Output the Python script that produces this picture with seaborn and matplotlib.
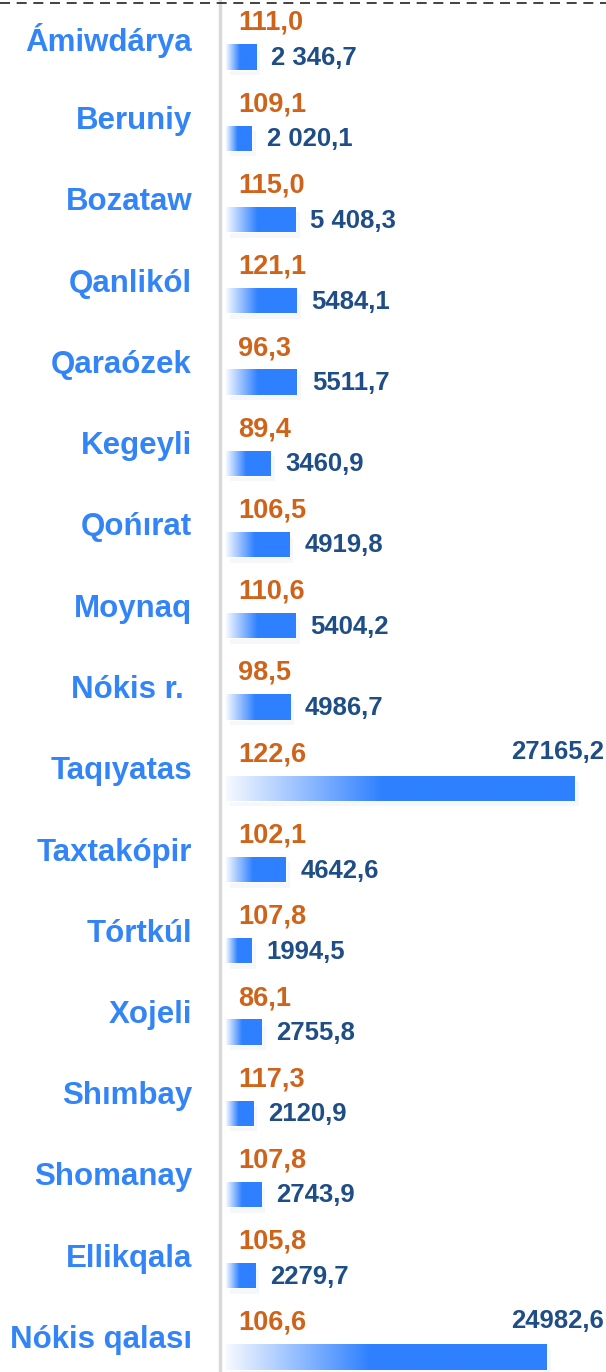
import numpy as np
import pandas as pd
import matplotlib
matplotlib.use('Agg')
import matplotlib.pyplot as plt
import seaborn as sns
from matplotlib.colors import LinearSegmentedColormap
from matplotlib.lines import Line2D
import matplotlib.patheffects as pe

districts = ['Ámiwdárya', 'Beruniy', 'Bozataw', 'Qanlikól', 'Qaraózek', 'Kegeyli',
             'Qońırat', 'Moynaq', 'Nókis r. ', 'Taqıyatas', 'Taxtakópir', 'Tórtkúl',
             'Xojeli', 'Shımbay', 'Shomanay', 'Ellikqala', 'Nókis qalası']
volume = [2346.7, 2020.1, 5408.3, 5484.1, 5511.7, 3460.9,
          4919.8, 5404.2, 4986.7, 27165.2, 4642.6, 1994.5,
          2755.8, 2120.9, 2743.9, 2279.7, 24982.6]
volume_labels = ['2 346,7', '2 020,1', '5 408,3', '5484,1', '5511,7', '3460,9',
                 '4919,8', '5404,2', '4986,7', '27165,2', '4642,6', '1994,5',
                 '2755,8', '2120,9', '2743,9', '2279,7', '24982,6']
growth_labels = ['111,0', '109,1', '115,0', '121,1', '96,3', '89,4',
                 '106,5', '110,6', '98,5', '122,6', '102,1', '107,8',
                 '86,1', '117,3', '107,8', '105,8', '106,6']

df = pd.DataFrame({'district': districts, 'volume': volume})

W, H = 606, 1372
label_blue = '#3385f7'
bar_blue = '#2e80ff'
orange = '#d0631a'
navy = '#1f4e86'

sns.set_theme(style='white')
plt.rcParams['font.family'] = ['Liberation Sans', 'DejaVu Sans']

fig = plt.figure(figsize=(W / 100, H / 100), dpi=100)
ax = fig.add_axes([226 / W, 0, 1 - 226 / W, 1])

sns.barplot(data=df, y='district', x='volume', orient='h', color=bar_blue,
            width=0.31, ax=ax)

# row geometry in pixels -> data units
row_px = 81.25
xmax = 27165.2 * (W - 226) / 349
ymin = -57 / row_px
ymax = 16 + (H - 1357) / row_px
px_x = xmax / (W - 226)

cmap = LinearSegmentedColormap.from_list('fade', [(0, '#f6f9ff'), (0.45, bar_blue), (1, bar_blue)])
grad = np.linspace(0, 1, 256).reshape(1, -1)

for p in ax.patches:
    p.set_path_effects([pe.SimplePatchShadow(offset=(3, -4), shadow_rgbFace='#c9d5ea', alpha=0.18),
                        pe.Normal()])
    x0, y0 = p.get_x(), p.get_y()
    w, h = p.get_width(), p.get_height()
    im = ax.imshow(grad, cmap=cmap, aspect='auto', extent=[x0, x0 + w, y0 + h, y0],
                   zorder=3, interpolation='bicubic')
    im.set_clip_path(p)

for i, (name, v) in enumerate(zip(districts, volume)):
    fig.text(192 / W, 1 - (57 + i * row_px - 17) / H, name, ha='right', va='center',
             color=label_blue, fontsize=22.5, fontweight='bold')
    ax.text(12 * px_x, i - 34 / row_px, growth_labels[i], ha='left', va='center',
            color=orange, fontsize=19.5, fontweight='bold', zorder=5)
    if v > 20000:
        ax.text(xmax - 2 * px_x, i - 36 / row_px, volume_labels[i], ha='right', va='center',
                color=navy, fontsize=18.5, fontweight='bold', zorder=5)
    else:
        ax.text(v + 15 * px_x, i + 1 / row_px, volume_labels[i], ha='left', va='center',
                color=navy, fontsize=18.5, fontweight='bold', zorder=5)

ax.set_xlim(0, xmax)
ax.set_ylim(ymax, ymin)
ax.set_axis_off()

# separator and dashed top rule
fig.add_artist(Line2D([220 / W, 220 / W], [0, 1], color='#d9d9d9', lw=2.5))
fig.add_artist(Line2D([0, 1], [1 - 3 / H, 1 - 3 / H], color='#222222', lw=1.2,
                      linestyle=(0, (6, 4))))

fig.savefig('out.png', dpi=100)
